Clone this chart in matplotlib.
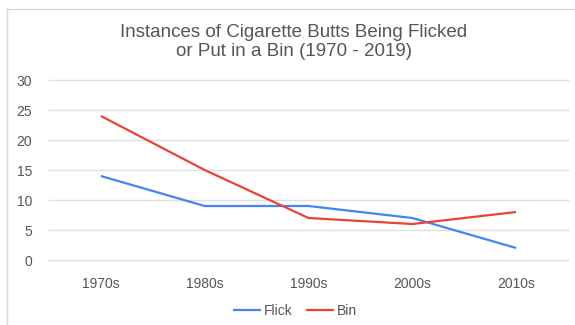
import matplotlib
matplotlib.use("Agg")
import matplotlib.pyplot as plt
from matplotlib.lines import Line2D

plt.rcParams["font.family"] = ["Liberation Sans", "DejaVu Sans"]

decades = ["1970s", "1980s", "1990s", "2000s", "2010s"]
flick = [14, 9, 9, 7, 2]
bin_vals = [24, 15, 7, 6, 8]
y_ticks = [0, 5, 10, 15, 20, 25, 30]

fig = plt.figure(figsize=(5.75, 3.25), dpi=100, facecolor="white")
ax = fig.add_axes([49 / 575, 1 - 260 / 325, (568 - 49) / 575, 180 / 325])

x = range(len(decades))
ax.plot(x, flick, color="#4285F4", lw=1.6, label="Flick", solid_capstyle="butt", zorder=3)
ax.plot(x, bin_vals, color="#EA4335", lw=1.6, label="Bin", solid_capstyle="butt", zorder=3)

ax.set_xlim(-0.5, len(decades) - 0.5)
ax.set_ylim(0, 30)
ax.set_yticks(y_ticks)
ax.set_xticks(list(x))
ax.set_xticklabels(decades)
ax.grid(axis="y", color="#e0e0e0", lw=1)
for gl in ax.get_ygridlines():
    gl.set_clip_on(False)
ax.set_axisbelow(True)
for s in ax.spines.values():
    s.set_visible(False)
ax.tick_params(axis="both", length=0, colors="#555555", labelsize=10)
ax.tick_params(axis="y", pad=12)
ax.tick_params(axis="x", pad=12)

fig.text(294 / 575, 1 - 42 / 325, "Instances of Cigarette Butts Being Flicked\nor Put in a Bin (1970 - 2019)",
         ha="center", va="center", fontsize=13.5, color="#555555", linespacing=1.1)

ax.legend(loc="center", bbox_to_anchor=(295 / 575, 1 - 311 / 325), bbox_transform=fig.transFigure,
          ncol=2, frameon=False, fontsize=10, labelcolor="#555555", handlelength=2.0,
          handletextpad=0.2, columnspacing=1.0)

# light frame around the chart (left and top edges)
fig.add_artist(Line2D([6.5 / 575, 6.5 / 575], [0, 1 - 9 / 325], transform=fig.transFigure,
                      color="#d9d9d9", lw=1))
fig.add_artist(Line2D([6.5 / 575, 1], [1 - 9 / 325, 1 - 9 / 325], transform=fig.transFigure,
                      color="#d9d9d9", lw=1))

fig.savefig("out.png", dpi=100)
